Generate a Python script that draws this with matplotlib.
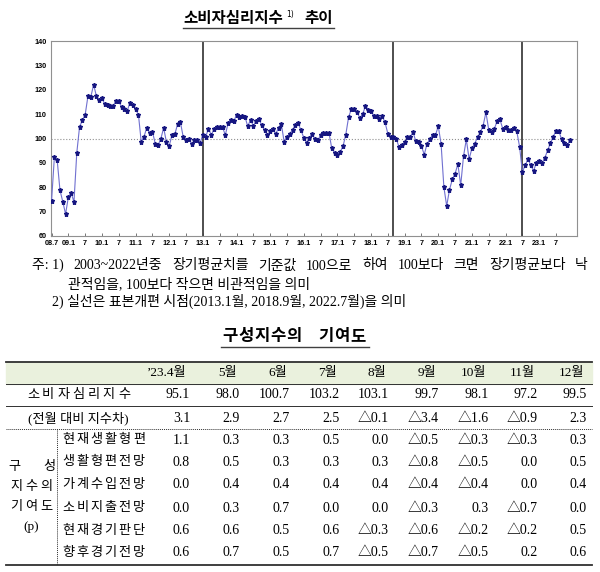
import numpy as np
import matplotlib
matplotlib.use('Agg')
import matplotlib.pyplot as plt

plt.rcParams['font.family'] = ['Noto Sans CJK KR', 'DejaVu Sans']

###################################
#     Data                      ###
###################################

# consumer sentiment index, monthly from 2008.7 to 2023.12
ccsi = [74.4, 92.3, 91.2, 78.8, 74.1, 69.0,
        76.0, 77.6, 74.0, 94.1, 104.9, 107.4, 109.8, 117.5, 117.0, 122.1, 117.4, 115.8,
        116.5, 114.0, 113.9, 113.5, 113.5, 115.4, 115.2, 112.9, 111.9, 111.4, 114.7, 113.7,
        111.9, 109.8, 98.6, 100.8, 104.5, 102.1, 102.8, 97.9, 97.3, 99.9, 104.4, 98.4,
        97.1, 101.4, 101.8, 106.0, 106.6, 100.5, 99.3, 99.7, 97.8, 99.2, 99.3, 98.2,
        101.5, 100.8, 104.0, 101.4, 104.0, 104.7, 104.7, 104.7, 101.4, 106.3, 107.7, 107.0,
        109.7, 108.8, 109.2, 109.0, 105.0, 107.7, 105.2, 107.3, 108.0, 105.4, 103.3, 101.4,
        102.9, 103.7, 101.8, 104.5, 105.9, 98.6, 100.8, 101.9, 103.6, 105.5, 106.3, 103.3,
        100.4, 98.2, 100.4, 101.8, 99.7, 99.2, 101.4, 102.2, 102.2, 102.3, 95.9, 94.2,
        93.2, 94.5, 96.8, 101.6, 108.8, 112.1, 112.2, 110.7, 108.5, 109.9, 113.3, 111.8,
        111.1, 109.3, 109.3, 108.1, 109.1, 106.6, 102.0, 100.5, 100.8, 100.0, 96.4, 97.4,
        98.4, 100.5, 100.8, 102.6, 98.8, 98.5, 96.8, 93.4, 97.9, 99.7, 101.6, 101.4,
        105.0, 97.8, 80.0, 72.3, 79.0, 83.2, 85.6, 89.5, 80.8, 92.7, 99.6, 91.6,
        95.9, 97.9, 100.5, 102.5, 105.3, 110.7, 103.6, 102.7, 104.0, 107.1, 107.8, 104.0,
        104.7, 103.3, 103.6, 104.3, 103.0, 96.7, 86.3, 89.0, 91.6, 89.0, 86.7, 90.1,
        90.7, 90.1, 92.0, 95.1, 98.0, 100.7, 103.2, 103.1, 99.7, 98.1, 97.2, 99.5]

xtick_labels = ['08.7', '09.1', '7', '10.1', '7', '11.1', '7', '12.1', '7', '13.1', '7',
                '14.1', '7', '15.1', '7', '16.1', '7', '17.1', '7', '18.1', '7', '19.1', '7',
                '20.1', '7', '21.1', '7', '22.1', '7', '23.1', '7']

# sample redesign points (months after 2008.7): 2013.1, 2018.9, 2022.7
redesign = [54, 122, 168]

notes = ['주: 1) 2003~2022년중 장기평균치를 기준값 100으로 하여 100보다 크면 장기평균보다 낙',
         '관적임을, 100보다 작으면 비관적임을 의미',
         '2) 실선은 표본개편 시점(2013.1월, 2018.9월, 2022.7월)을 의미']

cols = ['’23.4월', '5월', '6월', '7월', '8월', '9월', '10월', '11월', '12월']
ccsi_row = ['95.1', '98.0', '100.7', '103.2', '103.1', '99.7', '98.1', '97.2', '99.5']
diff_row = ['3.1', '2.9', '2.7', '2.5', '△0.1', '△3.4', '△1.6', '△0.9', '2.3']
comp_names = ['현재생활형편', '생활형편전망', '가계수입전망', '소비지출전망', '현재경기판단', '향후경기전망']
comp_vals = [['1.1', '0.3', '0.3', '0.5', '0.0', '△0.5', '△0.3', '△0.3', '0.3'],
             ['0.8', '0.5', '0.3', '0.3', '0.3', '△0.8', '△0.5', '0.0', '0.5'],
             ['0.0', '0.4', '0.4', '0.4', '0.4', '△0.4', '△0.4', '0.0', '0.4'],
             ['0.0', '0.3', '0.7', '0.0', '0.0', '△0.3', '0.3', '△0.7', '0.0'],
             ['0.6', '0.6', '0.5', '0.6', '△0.3', '△0.6', '△0.2', '△0.2', '0.5'],
             ['0.6', '0.7', '0.5', '0.7', '△0.5', '△0.7', '△0.5', '0.2', '0.6']]

###################################
#     Figure                    ###
###################################

W, H = 600, 572
fig = plt.figure(figsize=(6, 5.72), dpi=100)
page = fig.add_axes([0, 0, 1, 1])
page.set_xlim(0, W)
page.set_ylim(H, 0)
page.axis('off')

SERIF = ['Liberation Serif', 'Noto Sans CJK KR']
renderer = fig.canvas.get_renderer()


def spread(x0, x1, y, s, size=9.5, **kw):
    # letter-spaced label, first and last char centred on x0 / x1
    n = len(s)
    for k, ch in enumerate(s):
        page.text(x0 + (x1 - x0) * k / (n - 1), y, ch, ha='center', va='center',
                  fontsize=size, **kw)


def justify(x0, x1, y, line, size=10, keep=1):
    # place words so the line runs from x0 to x1 (first `keep` words stay together)
    words = line.split(' ')
    words = [' '.join(words[:keep])] + words[keep:]
    arts = [page.text(0, y, w, fontsize=size, va='center', ha='left', family=SERIF) for w in words]
    widths = [a.get_window_extent(renderer).width for a in arts]
    gap = (x1 - x0 - sum(widths)) / (len(words) - 1)
    pos = x0
    for a, w in zip(arts, widths):
        a.set_x(pos)
        pos += w + gap


# title
page.text(183, 18, '소비자심리지수', fontsize=11.2, fontweight='bold', va='center', ha='left')
page.text(286, 14, '1)', fontsize=5.5, va='center', ha='left', family='DejaVu Sans')
page.text(304, 18, '추이', fontsize=11.2, fontweight='bold', va='center', ha='left')
page.plot([183, 334], [28, 28], color='#404040', lw=1)

# chart
ax = fig.add_axes([51 / W, 1 - 236 / H, (577 - 51) / W, (236 - 41) / H])
x = np.arange(len(ccsi))
ax.plot(x, ccsi, color='#7070d0', lw=0.8, marker='*', ms=3.6,
        mfc='#151580', mec='#151580', zorder=3)
ax.axhline(100, color='#909090', lw=0.8, ls=':', zorder=1)
for r in redesign:
    ax.axvline(r, color='#404040', lw=1.3, zorder=2)
ax.set_xlim(-0.2, 187.5)
ax.set_ylim(60, 140)
ax.set_yticks(np.arange(60, 141, 10))
ax.set_xticks(np.arange(0, len(ccsi), 6))
ax.set_xticklabels(xtick_labels)
ax.tick_params(direction='in', length=2.5, width=0.6, color='#606060', labelsize=5.2, pad=3)
ax.tick_params(axis='y', length=0)
for lab in ax.get_xticklabels() + ax.get_yticklabels():
    lab.set_fontweight('bold')
    lab.set_family('Liberation Sans')
for s in ax.spines.values():
    s.set_color('#909090')
    s.set_linewidth(0.8)

# notes
justify(32, 588, 266, notes[0], keep=2)
page.text(68, 284, notes[1], fontsize=10, va='center', ha='left', family=SERIF)
page.text(52, 301, notes[2], fontsize=10, va='center', ha='left', family=SERIF)

# table title
spread(230, 294, 336, '구성지수의', size=12, fontweight='bold')
spread(326, 358, 336, '기여도', size=12, fontweight='bold')
page.plot([221, 369], [347, 347], color='#404040', lw=1)

# table
right = [190, 240, 290, 340, 389, 439, 489, 538, 587]
row_y = [440, 462, 485, 508, 531, 553]

page.add_patch(plt.Rectangle((6, 362), 586, 22, color='#eaf1dd', zorder=0))
page.plot([6, 592], [362, 362], color='#303030', lw=1.3)
page.plot([6, 592], [384, 384], color='#303030', lw=0.7)
page.plot([6, 592], [406, 406], color='#303030', lw=0.7)
page.plot([6, 592], [429, 429], color='#303030', lw=0.7, ls=(0, (1, 1)))
page.plot([6, 592], [565, 565], color='#303030', lw=1.3)
page.plot([57, 57], [429, 565], color='#303030', lw=0.7, ls=(0, (1, 1)))

for c, rx in zip(cols, right):
    page.text(rx - 3, 373, c, ha='right', va='center', fontsize=9.5, family=SERIF)

spread(33, 124, 395, '소비자심리지수', family=SERIF)
page.text(78, 418, '(전월 대비 지수차)', ha='center', va='center', fontsize=9.5, family=SERIF)
for v, rx in zip(ccsi_row, right):
    page.text(rx, 395, v, ha='right', va='center', fontsize=10, family=SERIF)
for v, rx in zip(diff_row, right):
    page.text(rx, 418, v, ha='right', va='center', fontsize=10, family=SERIF)

for name, vals, y in zip(comp_names, comp_vals, row_y):
    spread(68, 139, y, name, family=SERIF)
    for v, rx in zip(vals, right):
        page.text(rx, y, v, ha='right', va='center', fontsize=10, family=SERIF)

spread(14, 49, 467, '구성', family=SERIF)
spread(16, 46, 487, '지수의', family=SERIF)
spread(16, 46, 507, '기여도', family=SERIF)
page.text(31, 527, '(p)', ha='center', va='center', fontsize=9.5, family=SERIF)

plt.savefig('out.png', dpi=100)
